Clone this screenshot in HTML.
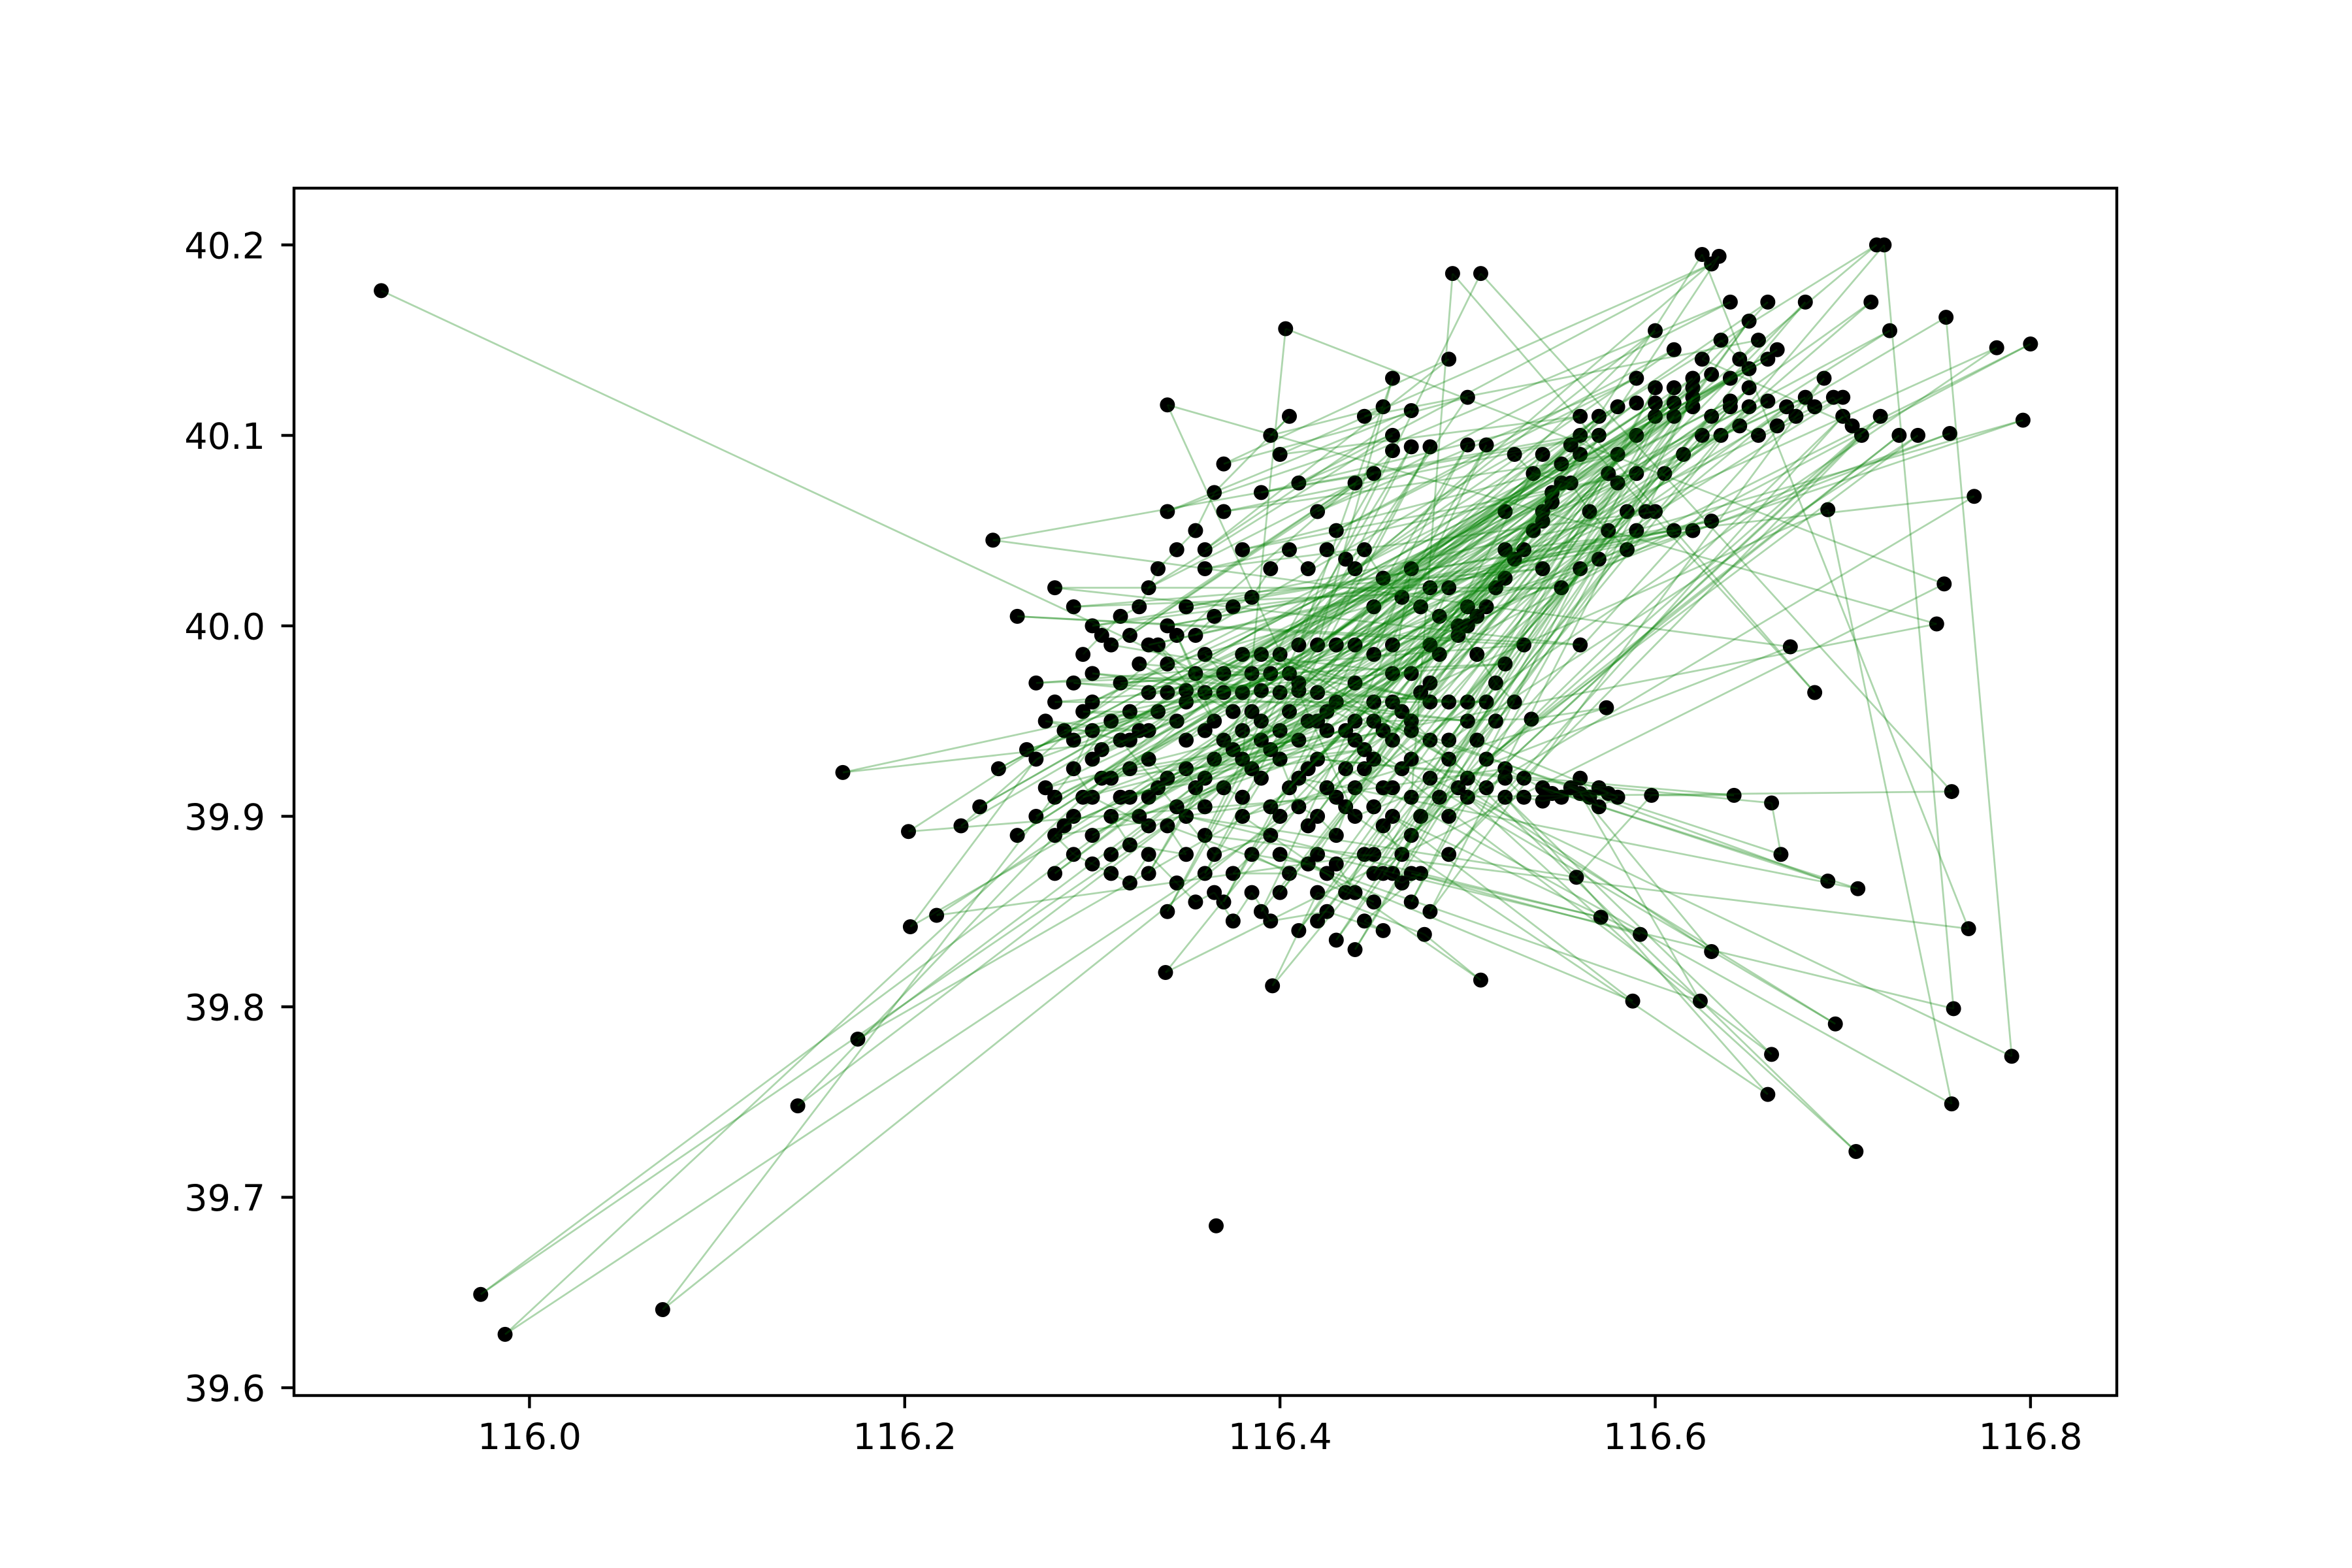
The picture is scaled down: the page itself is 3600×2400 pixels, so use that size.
<!DOCTYPE html>
<html><head><meta charset="utf-8">
<style>
html,body{margin:0;padding:0;background:#fff;}
svg{display:block;}
text{font-family:"DejaVu Sans","Liberation Sans",sans-serif;font-size:55.6px;fill:#000;}
</style></head>
<body>
<svg id="chart" width="3600" height="2400" viewBox="0 0 3600 2400" xmlns="http://www.w3.org/2000/svg">
<rect x="0" y="0" width="3600" height="2400" fill="#fff"/>
<g id="lines"></g>
<g id="dots"></g>
<g id="overlay"></g>
<g id="axes"></g>
</svg>
<script>
const stops = [
[115.921,40.176],[116.380,39.965],[116.620,40.115],[116.300,39.930],[116.700,40.120],[116.420,39.950],
[115.974,39.649],[116.330,39.910],[116.540,40.090],[116.450,39.930],[115.987,39.628],[116.350,39.960],
[116.660,40.170],[116.400,39.900],[116.071,39.641],[116.310,39.950],[116.718,40.200],[116.440,39.970],
[116.143,39.748],[116.290,39.900],[116.634,40.194],[116.470,39.950],[116.175,39.783],[116.360,39.920],
[116.800,40.148],[116.480,39.990],[116.167,39.923],[116.320,39.940],[116.782,40.146],[116.430,39.910],
[116.202,39.892],[116.340,39.980],[116.796,40.108],[116.500,40.010],[116.203,39.842],[116.270,39.930],
[116.757,40.101],[116.410,39.970],[116.217,39.848],[116.450,39.880],[116.770,40.068],[116.520,40.040],
[116.339,39.818],[116.754,40.022],[116.403,40.156],[116.380,39.930],[116.750,40.001],[116.340,40.116],
[116.440,39.900],[116.672,39.989],[116.247,40.045],[116.560,40.100],[116.685,39.965],[116.492,40.185],
[116.470,39.910],[116.758,39.913],[116.507,40.185],[116.360,39.890],[116.767,39.841],[116.625,40.195],
[116.420,39.880],[116.759,39.799],[116.722,40.200],[116.480,39.920],[116.790,39.774],[116.755,40.162],
[116.390,39.950],[116.758,39.749],[116.692,40.061],[116.460,39.960],[116.707,39.724],[116.500,39.910],
[116.696,39.791],[116.440,39.940],[116.662,39.775],[116.520,39.910],[116.660,39.754],[116.410,39.920],
[116.708,39.862],[116.540,39.915],[116.692,39.866],[116.430,39.960],[116.630,39.829],[116.560,39.912],
[116.624,39.803],[116.400,39.880],[116.588,39.803],[116.460,39.900],[116.592,39.838],[116.470,39.870],
[116.571,39.847],[116.350,39.900],[116.558,39.868],[116.598,39.911],[116.642,39.911],[116.420,39.930],
[116.662,39.907],[116.667,39.880],[116.450,39.950],[116.534,39.951],[116.574,39.957],[116.380,39.900],
[116.507,39.814],[116.477,39.838],[116.420,39.860],[116.396,39.811],[116.650,40.115],[116.330,39.965],
[116.680,40.120],[116.340,39.965],[116.640,40.118],[116.350,39.966],[116.610,40.117],[116.360,39.965],
[116.600,40.117],[116.370,39.965],[116.590,40.117],[116.390,39.966],[116.580,40.115],[116.400,39.965],
[116.570,40.110],[116.410,39.966],[116.555,40.095],[116.420,39.965],[116.550,40.085],[116.300,39.960],
[116.545,40.070],[116.310,39.920],[116.540,40.055],[116.320,39.910],[116.530,40.040],[116.280,39.910],
[116.520,40.025],[116.290,39.940],[116.510,40.010],[116.300,39.890],[116.500,40.000],[116.310,39.880],
[116.620,40.130],[116.270,39.900],[116.630,40.132],[116.280,39.870],[116.640,40.130],[116.260,39.890],
[116.650,40.135],[116.250,39.925],[116.660,40.140],[116.240,39.905],[116.665,40.145],[116.230,39.895],
[116.460,40.092],[116.330,39.870],[116.470,40.094],[116.340,39.850],[116.480,40.094],[116.360,39.870],
[116.500,40.095],[116.370,39.855],[116.510,40.095],[116.390,39.850],[116.575,40.080],[116.400,39.860],
[116.580,40.075],[116.410,39.840],[116.585,40.060],[116.420,39.845],[116.590,40.050],[116.430,39.835],
[116.560,40.030],[116.440,39.830],[116.570,40.035],[116.450,39.870],[116.600,40.125],[116.460,39.870],
[116.610,40.125],[116.470,39.855],[116.620,40.120],[116.480,39.850],[116.690,40.130],[116.470,39.890],
[116.700,40.110],[116.490,39.880],[116.710,40.100],[116.490,39.900],[116.720,40.110],[116.500,39.920],
[116.730,40.100],[116.510,39.930],[116.740,40.100],[116.490,39.940],[116.650,40.160],[116.500,39.960],
[116.680,40.170],[116.480,39.970],[116.715,40.170],[116.460,39.990],[116.725,40.155],[116.450,40.010],
[116.600,40.155],[116.440,40.030],[116.610,40.145],[116.430,40.050],[116.590,40.130],[116.420,40.060],
[116.640,40.170],[116.410,40.075],[116.630,40.190],[116.400,40.090],[116.560,40.110],[116.390,40.070],
[116.570,40.100],[116.370,40.060],[116.580,40.090],[116.380,40.040],[116.590,40.080],[116.360,40.030],
[116.600,40.060],[116.350,40.010],[116.610,40.050],[116.340,40.000],[116.620,40.050],[116.330,39.990],
[116.630,40.055],[116.300,40.000],[116.540,40.030],[116.290,40.010],[116.550,40.020],[116.280,40.020],
[116.560,39.990],[116.260,40.005],[116.530,39.990],[116.270,39.970],[116.520,39.980],[116.280,39.960],
[116.510,39.960],[116.290,39.970],[116.500,39.950],[116.300,39.975],[116.490,39.960],[116.310,39.990],
[116.440,40.075],[116.320,39.995],[116.450,40.080],[116.330,40.020],[116.460,40.100],[116.340,40.060],
[116.470,40.113],[116.360,40.040],[116.490,40.140],[116.370,40.085],[116.500,40.120],[116.410,39.990],
[116.460,40.130],[116.420,39.990],[116.520,40.060],[116.430,39.990],[116.540,40.060],[116.440,39.990],
[116.480,40.020],[116.450,39.985],[116.470,40.030],[116.460,39.975],[116.490,40.020],[116.470,39.975],
[116.380,39.985],[116.480,39.960],[116.390,39.985],[116.490,39.930],[116.400,39.985],[116.350,39.940],
[116.360,39.945],[116.370,39.940],[116.380,39.945],[116.390,39.940],[116.400,39.945],[116.410,39.940],
[116.320,39.925],[116.330,39.930],[116.340,39.920],[116.350,39.925],[116.360,39.905],[116.370,39.915],
[116.380,39.910],[116.390,39.920],[116.400,39.930],[116.410,39.905],[116.420,39.900],[116.430,39.890],
[116.440,39.915],[116.450,39.905],[116.460,39.915],[116.430,39.875],[116.440,39.860],[116.450,39.855],
[116.340,39.895],[116.350,39.880],[116.320,39.885],[116.310,39.900],[116.330,39.895],[116.300,39.910],
[116.290,39.925],[116.300,39.945],[116.320,39.955],[116.330,39.945],[116.370,39.975],[116.360,39.985],
[116.440,39.950],[116.450,39.960],[116.460,39.940],[116.470,39.930],[116.480,39.940],[116.470,39.945],
[116.510,39.915],[116.520,39.920],[116.530,39.910],[116.540,39.908],[116.550,39.910],[116.570,39.915],
[116.580,39.910],[116.570,39.905],[116.560,39.920]
];
const extraStops = [
[116.385,39.955],[116.640,40.115],[116.395,39.935],[116.660,40.118],[116.405,39.955],[116.620,40.125],
[116.415,39.925],[116.600,40.110],[116.425,39.945],[116.670,40.115],[116.435,39.925],[116.590,40.100],
[116.445,39.925],[116.610,40.110],[116.455,39.915],[116.650,40.125],[116.465,39.925],[116.630,40.110],
[116.435,39.905],[116.560,40.090],[116.425,39.915],[116.550,40.075],[116.415,39.895],[116.545,40.065],
[116.405,39.915],[116.535,40.050],[116.395,39.905],[116.525,40.035],[116.385,39.925],[116.515,40.020],
[116.375,39.935],[116.505,40.005],[116.365,39.930],[116.495,39.995],[116.355,39.915],[116.485,39.985],
[116.345,39.905],[116.475,39.965],[116.335,39.915],[116.465,39.955],[116.325,39.900],[116.455,39.945],
[116.315,39.910],[116.445,39.935],[116.305,39.920],[116.435,39.945],[116.295,39.910],[116.425,39.955],
[116.285,39.895],[116.415,39.950],[116.275,39.915],[116.405,39.975],[116.265,39.935],[116.395,39.975],
[116.315,39.970],[116.385,39.975],[116.325,39.980],[116.375,39.955],[116.335,39.990],[116.365,39.950],
[116.345,39.995],[116.355,39.975],[116.305,39.935],[116.345,39.950],[116.295,39.955],[116.335,39.955],
[116.285,39.945],[116.325,39.945],[116.275,39.950],[116.315,39.940],[116.365,39.880],[116.395,39.890],
[116.375,39.870],[116.405,39.870],[116.385,39.880],[116.415,39.875],[116.425,39.870],[116.435,39.860],
[116.445,39.880],[116.455,39.895],[116.465,39.880],[116.475,39.900],[116.485,39.910],[116.495,39.915],
[116.455,39.870],[116.465,39.865],[116.475,39.870],[116.445,39.845],[116.455,39.840],[116.425,39.850],
[116.395,39.845],[116.385,39.860],[116.375,39.845],[116.365,39.860],[116.355,39.855],[116.345,39.865],
[116.330,39.880],[116.320,39.865],[116.310,39.870],[116.300,39.875],[116.290,39.880],[116.280,39.890],
[116.520,39.925],[116.530,39.920],[116.545,39.912],[116.555,39.915],[116.565,39.910],[116.575,39.912],
[116.505,39.940],[116.515,39.950],[116.525,39.960],[116.515,39.970],[116.505,39.985],[116.495,40.000],
[116.485,40.005],[116.475,40.010],[116.465,40.015],[116.455,40.025],[116.445,40.040],[116.435,40.035],
[116.425,40.040],[116.415,40.030],[116.405,40.040],[116.395,40.030],[116.385,40.015],[116.375,40.010],
[116.365,40.005],[116.355,39.995],[116.525,40.090],[116.535,40.080],[116.555,40.075],[116.565,40.060],
[116.575,40.050],[116.585,40.040],[116.595,40.060],[116.605,40.080],[116.615,40.090],[116.625,40.100],
[116.635,40.100],[116.645,40.105],[116.655,40.100],[116.665,40.105],[116.675,40.110],[116.685,40.115],
[116.695,40.120],[116.705,40.105],[116.625,40.140],[116.635,40.150],[116.645,40.140],[116.655,40.150],
[116.445,40.110],[116.455,40.115],[116.395,40.100],[116.405,40.110],[116.365,40.070],[116.355,40.050],
[116.345,40.040],[116.335,40.030],[116.325,40.010],[116.315,40.005],[116.305,39.995],[116.295,39.985]
];
const loneStops = [[116.366,39.685]];
const xTicks = [116.0,116.2,116.4,116.6,116.8];
const xTickLabels = ["116.0","116.2","116.4","116.6","116.8"];
const yTicks = [39.6,39.7,39.8,39.9,40.0,40.1,40.2];
const yTickLabels = ["39.6","39.7","39.8","39.9","40.0","40.1","40.2"];

const NS = "http://www.w3.org/2000/svg";
const L = 450, R = 3240, T = 288, B = 2136;
const xMin = 115.8745, xMax = 116.846, yMin = 39.5959, yMax = 40.2298;
function xs(v){ return L + (v - xMin) / (xMax - xMin) * (R - L); }
function ys(v){ return B - (v - yMin) / (yMax - yMin) * (B - T); }
function mk(tag, attrs){ const e = document.createElementNS(NS, tag); for (const k in attrs) e.setAttribute(k, attrs[k]); return e; }

function drawTrip(arr, group, color, name){
  for (let i = 1; i < arr.length; i++) {
    const ln = mk('line', {x1: xs(arr[i-1][0]), y1: ys(arr[i-1][1]), x2: xs(arr[i][0]), y2: ys(arr[i][1]), stroke: color, 'stroke-width': 2.8});
    
    
    group.appendChild(ln);
  }
}
const gl = document.getElementById('lines');
drawTrip(stops, gl, 'rgba(0,128,0,0.2)', 'trip-segment');
drawTrip(extraStops, gl, 'rgba(0,128,0,0.2)', 'trip-segment');

const gd = document.getElementById('dots');
stops.concat(extraStops, loneStops).forEach(p => {
  const c = mk('circle', {cx: xs(p[0]), cy: ys(p[1]), r: 11.5, fill: '#000'});
  
  
  gd.appendChild(c);
});

const go = document.getElementById('overlay');
drawTrip(stops, go, 'rgba(0,128,0,0.15)', 'trip-segment-overlay');
drawTrip(extraStops, go, 'rgba(0,128,0,0.15)', 'trip-segment-overlay');

const ga = document.getElementById('axes');
const frame = mk('rect', {x: L, y: T, width: R - L, height: B - T, fill: 'none', stroke: '#000', 'stroke-width': 4.4});


ga.appendChild(frame);
xTicks.forEach((v, i) => {
  const t = mk('line', {x1: xs(v), y1: B, x2: xs(v), y2: B + 19.4, stroke: '#000', 'stroke-width': 4.4});
  
  
  ga.appendChild(t);
  const tx = mk('text', {x: xs(v), y: 2218, 'text-anchor': 'middle'});
  tx.textContent = xTickLabels[i];
  
  
  ga.appendChild(tx);
});
yTicks.forEach((v, i) => {
  const t = mk('line', {x1: L - 19.4, y1: ys(v), x2: L, y2: ys(v), stroke: '#000', 'stroke-width': 4.4});
  
  
  ga.appendChild(t);
  const tx = mk('text', {x: 406, y: ys(v) + 20.5, 'text-anchor': 'end'});
  tx.textContent = yTickLabels[i];
  
  
  ga.appendChild(tx);
});
</script>
</body></html>
